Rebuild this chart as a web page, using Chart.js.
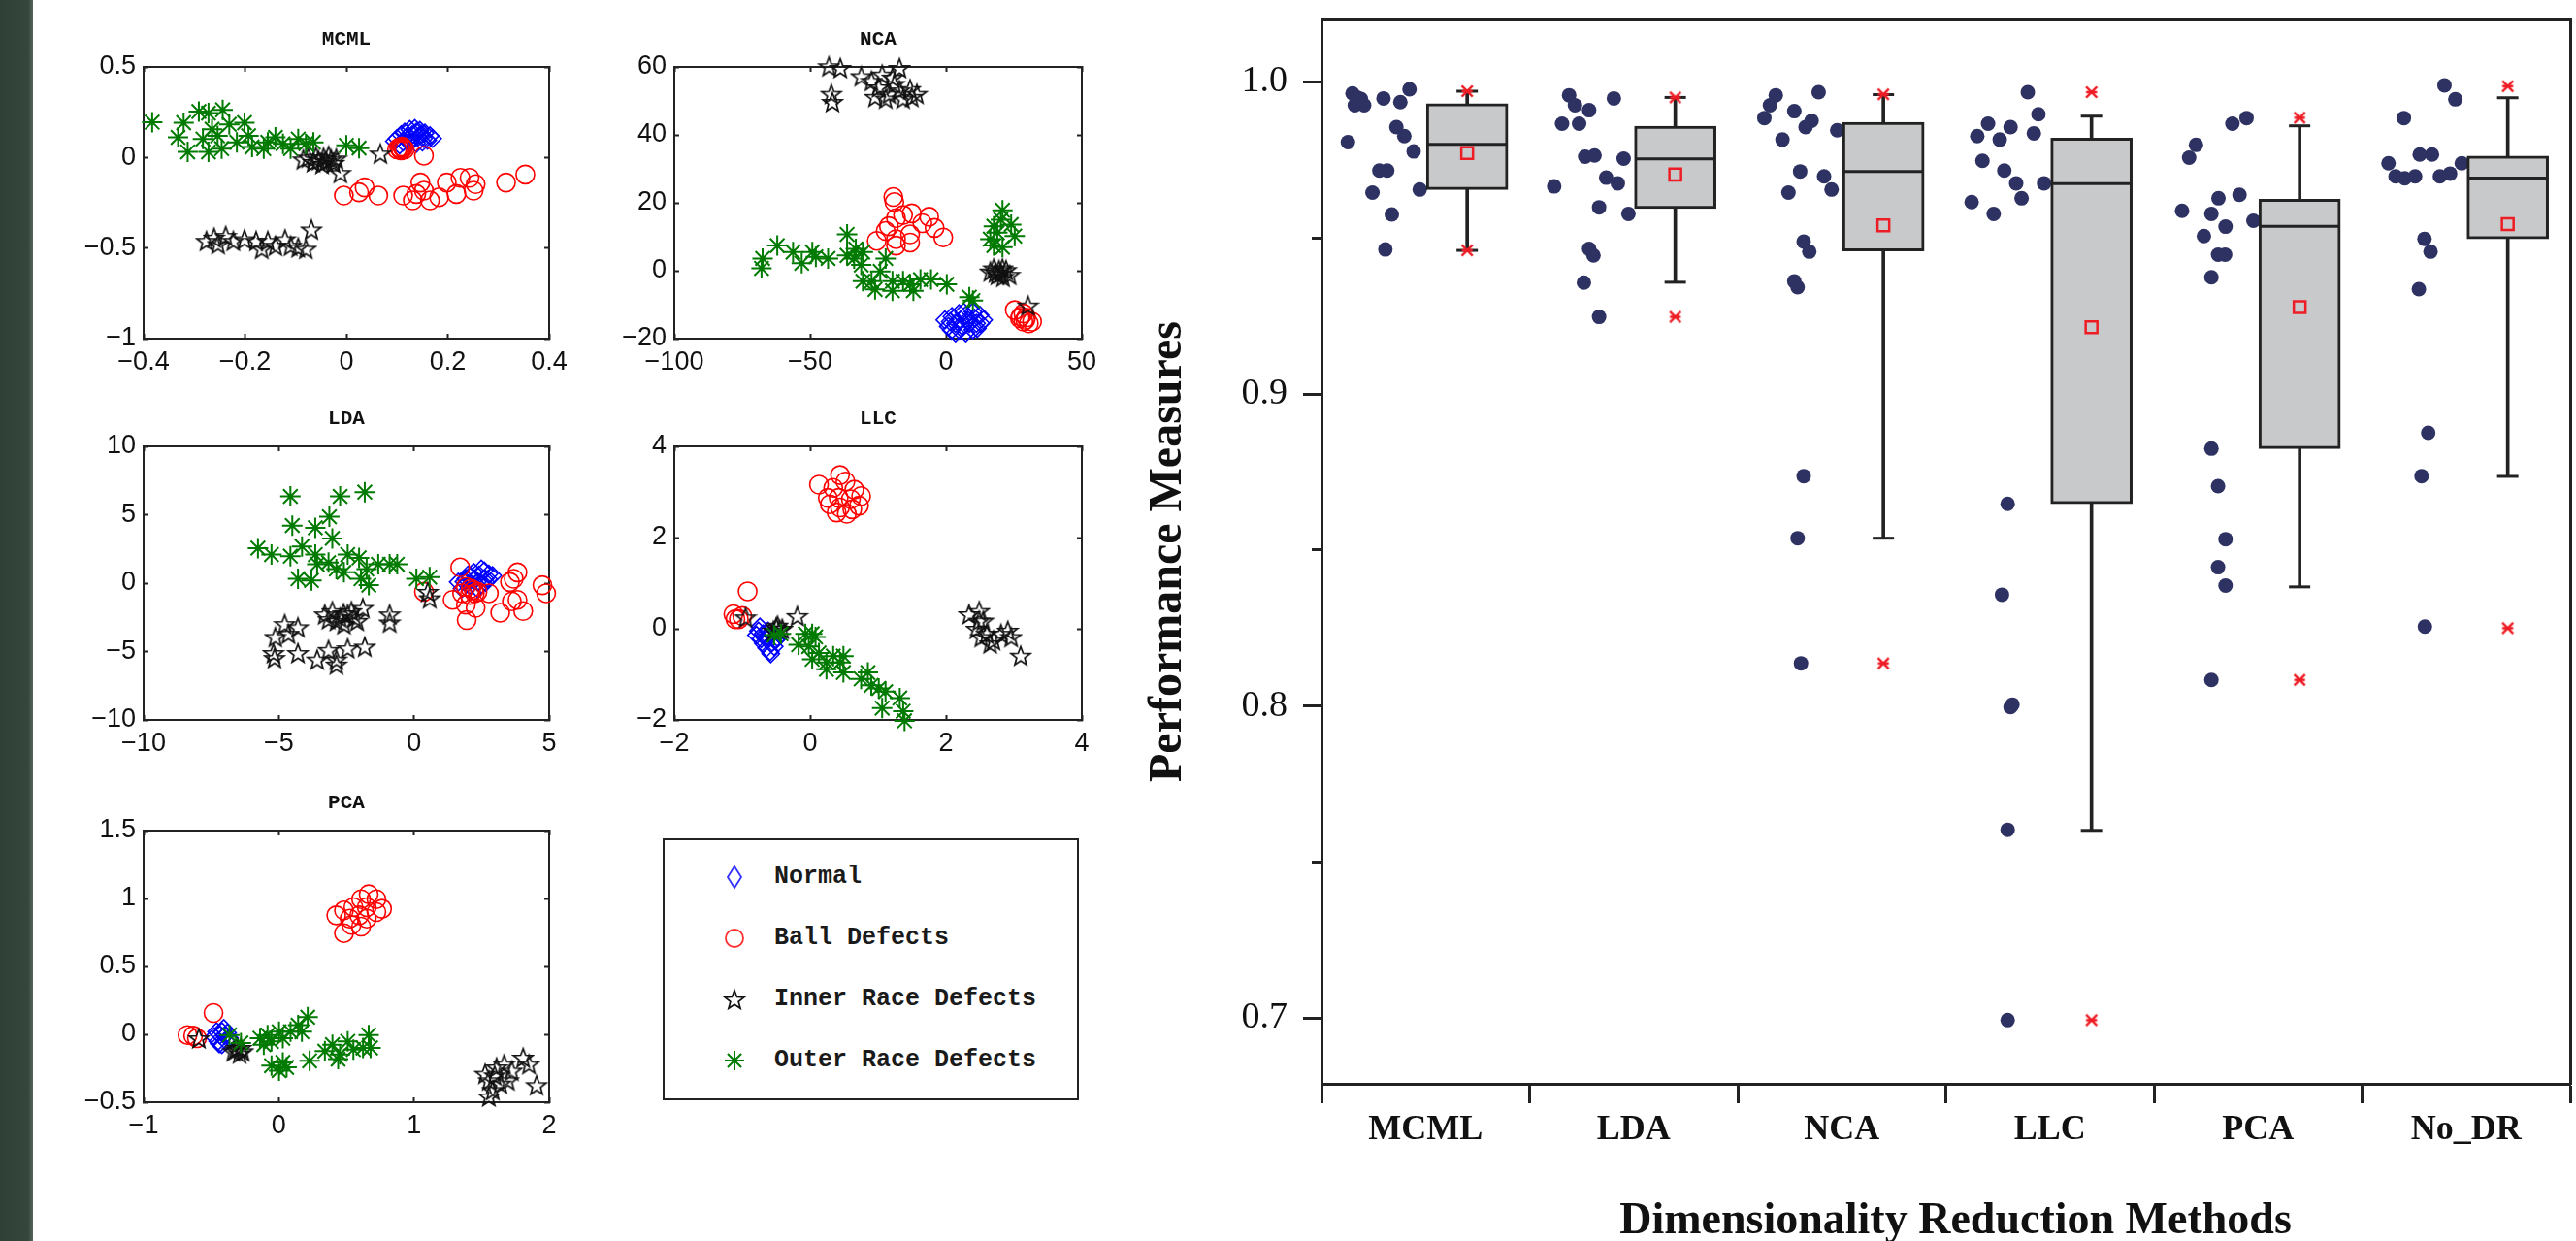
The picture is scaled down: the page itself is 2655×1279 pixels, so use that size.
<!DOCTYPE html>
<html>
<head>
<meta charset="utf-8">
<title>Dimensionality reduction comparison</title>
<script src="https://cdn.jsdelivr.net/npm/chart.js@4.4.1/dist/chart.umd.min.js"></script>
<style>
  html, body { margin: 0; padding: 0; background: #fff; }
  body { width: 2655px; height: 1279px; position: relative; overflow: hidden; }
  #strip { position: absolute; left: 0; top: 0; width: 34px; height: 1279px;
           background: linear-gradient(to right, #2f4037, #35473c 85%, #56675c); }
  canvas { position: absolute; }
  #legend { position: absolute; left: 683px; top: 864px; width: 429px; height: 270px;
            box-sizing: border-box; border: 2px solid #222;
            font: bold 25px 'Liberation Mono', monospace; color: #1a1a1a; }
  .row { position: absolute; left: 0; width: 100%; height: 30px; line-height: 30px; }
  .row canvas { position: absolute; left: 57px; top: 0; }
  .row span { position: absolute; left: 113px; white-space: pre; }
  #xtitle { position: absolute; left: 1362px; width: 1287px; top: 1233px; padding-left: 20px;
            box-sizing: border-box; text-align: center; white-space: nowrap;
            font: bold 46px/46px 'Liberation Serif', serif; color: #111; }
</style>
</head>
<body>
<div id="strip"></div>
<canvas id="mcml"></canvas>
<canvas id="nca"></canvas>
<canvas id="lda"></canvas>
<canvas id="llc"></canvas>
<canvas id="pca"></canvas>
<canvas id="box"></canvas>
<div id="legend"></div>
<div id="xtitle">Dimensionality Reduction Methods</div>
<script>
// ---- box plot: performance per dimensionality reduction method ----
const methods = ['MCML', 'LDA', 'NCA', 'LLC', 'PCA', 'No_DR'];
const q1       = [0.9655, 0.9594, 0.9458, 0.8648, 0.8825, 0.9497];
const medians  = [0.9800, 0.9753, 0.9713, 0.9674, 0.9537, 0.9692];
const q3       = [0.9930, 0.9858, 0.9870, 0.9820, 0.9624, 0.9762];
const whiskLo  = [0.9460, 0.9358, 0.8538, 0.7602, 0.8382, 0.8736];
const whiskHi  = [0.9970, 0.9950, 0.9959, 0.9890, 0.9859, 0.9949];
const means    = [0.9772, 0.9703, 0.9540, 0.9214, 0.9278, 0.9544];
const pct1     = [0.9460, 0.9247, 0.8137, 0.6994, 0.8084, 0.8250];
const pct99    = [0.9970, 0.9950, 0.9960, 0.9967, 0.9885, 0.9986];
const yMajor = [0.7, 0.8, 0.9, 1.0];
const yMinor = [0.75, 0.85, 0.95];

// individual runs: [jitter offset from the category, value]
const runsMCML = [[-0.351,0.9963],[-0.329,0.9950],[-0.340,0.9925],[-0.295,0.9925],[-0.31,0.9945],[-0.202,0.9947],[-0.121,0.9935],[-0.077,0.9976],[-0.140,0.9855],[-0.102,0.9826],[-0.373,0.9807],[-0.057,0.9777],[-0.222,0.9716],[-0.184,0.9716],[-0.255,0.9645],[-0.028,0.9655],[-0.162,0.9575],[-0.193,0.9463]];
const runsLDA = [[-0.310,0.9957],[-0.282,0.9925],[-0.214,0.9909],[-0.095,0.9947],[-0.344,0.9866],[-0.262,0.9866],[-0.233,0.9760],[-0.188,0.9764],[-0.048,0.9754],[-0.132,0.9693],[-0.076,0.9675],[-0.382,0.9665],[-0.166,0.9598],[-0.025,0.9577],[-0.214,0.9465],[-0.193,0.9444],[-0.239,0.9357],[-0.166,0.9247]];
const runsNCA = [[-0.317,0.9957],[-0.345,0.9925],[-0.372,0.9884],[-0.228,0.9906],[-0.111,0.9967],[-0.145,0.9875],[-0.174,0.9855],[-0.022,0.9845],[-0.285,0.9815],[-0.200,0.9713],[-0.085,0.9697],[-0.049,0.9655],[-0.256,0.9645],[-0.183,0.9488],[-0.156,0.9456],[-0.228,0.9361],[-0.212,0.9342],[-0.183,0.8737],[-0.212,0.8538],[-0.196,0.8137]];
const runsLLC = [[-0.106,0.9967],[-0.055,0.9896],[-0.297,0.9866],[-0.189,0.9855],[-0.349,0.9826],[-0.241,0.9815],[-0.077,0.9835],[-0.324,0.9747],[-0.219,0.9716],[-0.162,0.9675],[-0.028,0.9675],[-0.136,0.9627],[-0.376,0.9615],[-0.270,0.9577],[-0.203,0.8648],[-0.230,0.8357],[-0.189,0.7997],[-0.180,0.8005],[-0.203,0.7604],[-0.203,0.6994]];
const runsPCA = [[-0.055,0.9884],[-0.123,0.9866],[-0.298,0.9798],[-0.331,0.9757],[-0.190,0.9627],[-0.089,0.9638],[-0.365,0.9587],[-0.224,0.9577],[-0.022,0.9555],[-0.156,0.9536],[-0.260,0.9506],[-0.192,0.9446],[-0.158,0.9446],[-0.224,0.9374],[-0.224,0.8825],[-0.192,0.8705],[-0.156,0.8535],[-0.192,0.8445],[-0.156,0.8386],[-0.224,0.8084]];
const runsNoDR = [[-0.104,0.9989],[-0.052,0.9944],[-0.299,0.9884],[-0.223,0.9767],[-0.164,0.9767],[-0.373,0.9739],[-0.339,0.9697],[-0.295,0.9691],[-0.245,0.9697],[-0.126,0.9697],[-0.077,0.9706],[-0.021,0.9739],[-0.200,0.9497],[-0.171,0.9456],[-0.227,0.9336],[-0.182,0.8876],[-0.214,0.8737],[-0.198,0.8255]];
const runs = [runsMCML, runsLDA, runsNCA, runsLLC, runsPCA, runsNoDR];

// ---- 2-D projections, one array per class ----
const mcmlNormal = [[0.095,0.09],[0.100,0.105],[0.108,0.125],[0.115,0.14],[0.125,0.155],[0.135,0.16],[0.145,0.15],[0.155,0.135],[0.165,0.12],[0.170,0.105],[0.160,0.095],[0.150,0.085],[0.138,0.078],[0.125,0.08],[0.112,0.085],[0.118,0.11],[0.130,0.125],[0.142,0.115],[0.152,0.105],[0.128,0.1],[0.138,0.14],[0.105,0.07],[0.12,0.095],[0.148,0.128]];
const mcmlBall = [[0.100,0.045],[0.104,0.055],[0.108,0.040],[0.112,0.052],[0.106,0.048],[0.115,0.045],[0.110,0.060],[0.153,0.010],[-0.005,-0.210],[0.025,-0.192],[0.036,-0.165],[0.063,-0.210],[0.112,-0.210],[0.131,-0.237],[0.146,-0.138],[0.153,-0.183],[0.165,-0.237],[0.183,-0.219],[0.198,-0.138],[0.217,-0.201],[0.225,-0.112],[0.243,-0.112],[0.255,-0.147],[0.251,-0.183],[0.315,-0.138],[0.353,-0.094],[0.138,-0.201]];
const mcmlInner = [[-0.085,-0.01],[-0.075,0.0],[-0.065,-0.025],[-0.060,0.005],[-0.055,-0.015],[-0.048,-0.035],[-0.045,0.0],[-0.040,-0.02],[-0.035,0.01],[-0.030,-0.01],[-0.025,-0.03],[-0.02,-0.005],[-0.012,-0.085],[0.067,0.022],[-0.276,-0.460],[-0.261,-0.442],[-0.238,-0.433],[-0.223,-0.460],[-0.201,-0.451],[-0.178,-0.460],[-0.167,-0.504],[-0.155,-0.460],[-0.140,-0.487],[-0.121,-0.451],[-0.110,-0.487],[-0.095,-0.496],[-0.080,-0.504],[-0.069,-0.397],[-0.253,-0.478]];
const mcmlOuter = [[-0.383,0.195],[-0.321,0.192],[-0.332,0.111],[-0.313,0.031],[-0.291,0.254],[-0.272,0.245],[-0.244,0.263],[-0.265,0.156],[-0.272,0.031],[-0.246,0.049],[-0.231,0.183],[-0.201,0.192],[-0.193,0.120],[-0.216,0.084],[-0.155,0.084],[-0.163,0.049],[-0.125,0.076],[-0.095,0.102],[-0.080,0.076],[-0.065,0.084],[-0.110,0.049],[0.0,0.067],[0.025,0.052],[-0.254,0.120],[-0.186,0.058],[-0.140,0.111],[-0.283,0.102]];

const ncaNormal = [[-0.4,-14.5],[2.2,-13.5],[4.8,-12.6],[7.3,-13.1],[9.9,-12.1],[12.5,-13.1],[13.8,-14.5],[3.5,-15.5],[6.0,-16.4],[8.6,-15.5],[11.2,-15.5],[0.9,-16.4],[3.5,-18.3],[7.3,-18.3],[9.9,-17.4],[5.4,-14.5],[8.0,-14.5],[1.6,-15.0],[11.5,-17],[5,-17.5],[2,-17.5],[10.5,-14],[6.5,-12.2],[12.8,-15.5]];
const ncaBall = [[-19.4,21.7],[-19.0,20.2],[-15.8,16.4],[-12.6,16.9],[-6.2,15.9],[-18.4,15.5],[-8.7,14.0],[-4.2,12.6],[-22.2,11.7],[-18.4,9.3],[-13.2,10.7],[-1.0,9.8],[-25.5,8.8],[-18.4,7.4],[-13.2,8.3],[-21.0,13.1],[25.3,-11.6],[27.2,-14.0],[29.2,-14.5],[31.7,-15.0],[28.5,-12.6],[30.5,-15.5],[27.5,-13.5],[29.5,-13.8],[28.5,-15]];
const ncaInner = [[-43.1,60.2],[-38.9,59.7],[-42.2,52.1],[-41.8,49.7],[-31.2,57.3],[-27.4,55.9],[-23.5,57.8],[-19.7,56.9],[-17.1,59.7],[-24.8,54.0],[-20.9,52.1],[-17.1,53.1],[-13.2,53.5],[-10.7,52.1],[-22.2,50.7],[-15.8,50.7],[-12.6,51.2],[-26.1,51.2],[-19.0,55.0],[17.6,0.7],[20.2,-0.7],[22.1,0.2],[18.9,-1.2],[16.3,-0.2],[20.8,0.7],[23.4,-1.2],[19.5,0.2],[21,-1.8],[18.2,-0.5],[30.2,-10.2]];
const ncaOuter = [[-67.5,3.6],[-67.9,0.7],[-62.1,7.4],[-56.3,5.5],[-53.1,2.2],[-49.2,5.5],[-47.9,4.1],[-43.4,3.6],[-36.4,10.7],[-36.4,4.5],[-33.2,6.4],[-33.8,3.6],[-30.6,5.5],[-31.2,1.7],[-30.6,-3.1],[-27.4,-3.1],[-26.1,-5.5],[-22.2,3.6],[-24.2,-0.2],[-19.7,-3.1],[-19.7,-5.9],[-15.8,-3.1],[-13.2,-4.0],[-12.0,-5.9],[-9.4,-2.6],[-5.5,-2.6],[0.3,-4.0],[8.6,-7.8],[9.9,-8.8],[20.8,17.8],[17.6,13.1],[16.3,9.3],[18.9,11.2],[20.2,15.0],[24.0,13.6],[25.3,10.2],[20.8,6.9],[17.6,7.4]];

const ldaNormal = [[1.64,0.08],[1.92,0.32],[2.21,0.79],[2.49,1.03],[2.77,0.67],[2.91,0.55],[2.06,-0.15],[2.35,0.08],[2.63,0.32],[1.78,-0.39],[2.35,-0.39],[2.1,0.5],[2.4,0.6],[2.6,0.9],[2.75,0.3],[1.85,0.1],[2.2,0.2],[2.5,-0.1],[2.0,0.6],[2.65,0.05]];
const ldaBall = [[1.92,-0.27],[2.21,-0.51],[2.06,-0.86],[2.35,-0.63],[1.78,-0.74],[2.1,-0.4],[2.25,-0.75],[1.71,1.15],[0.37,-0.63],[1.43,-1.22],[1.92,-1.57],[2.28,-1.81],[1.95,-2.70],[2.77,-0.74],[3.19,-2.16],[3.62,-1.33],[3.83,-1.22],[4.04,-2.04],[3.55,0.08],[3.83,0.79],[3.69,0.32],[4.75,-0.15],[4.89,-0.74]];
const ldaInner = [[-3.30,-2.28],[-3.02,-2.04],[-2.73,-2.51],[-2.45,-2.28],[-2.31,-2.04],[-2.87,-2.75],[-2.59,-2.99],[-2.10,-2.75],[-1.89,-1.81],[-3.16,-2.63],[-2.6,-2.2],[-2.2,-2.5],[-4.78,-2.99],[-4.29,-3.22],[-5.13,-3.93],[-4.64,-3.70],[-5.20,-5.11],[-5.16,-5.47],[-4.29,-5.11],[-3.58,-5.58],[-3.16,-4.88],[-2.87,-5.58],[-2.87,-5.94],[-2.45,-4.76],[-1.82,-4.64],[-0.90,-2.28],[-0.90,-2.87],[0.58,-1.10],[0.51,-0.63]];
const ldaOuter = [[-4.57,6.34],[-2.73,6.34],[-1.82,6.65],[-4.50,4.21],[-3.65,4.05],[-3.13,4.85],[-3.02,3.27],[-5.77,2.56],[-5.27,2.09],[-4.57,1.97],[-4.14,2.68],[-3.65,2.09],[-3.58,1.38],[-4.29,0.32],[-3.79,0.20],[-3.16,1.50],[-2.87,1.03],[-2.45,2.09],[-2.03,1.85],[-1.75,1.03],[-1.67,-0.15],[-1.32,1.38],[-0.90,1.38],[-0.62,1.38],[0.09,0.32],[0.58,0.44],[-2.59,0.79],[-1.96,0.32]];

const llcNormal = [[-0.74,0.04],[-0.79,-0.14],[-0.69,-0.32],[-0.59,-0.50],[-0.61,-0.18],[-0.51,-0.25],[-0.53,-0.39],[-0.69,-0.11],[-0.76,-0.05],[-0.64,-0.42],[-0.56,-0.3],[-0.66,-0.2],[-0.72,-0.22],[-0.62,-0.05],[-0.58,-0.55],[-0.48,-0.2]];
const llcBall = [[0.13,3.16],[0.44,3.37],[0.52,3.23],[0.34,3.09],[0.65,3.05],[0.75,2.91],[0.42,2.87],[0.60,2.84],[0.29,2.73],[0.44,2.66],[0.62,2.62],[0.39,2.55],[0.54,2.52],[0.72,2.70],[0.26,2.87],[-0.92,0.82],[-1.13,0.32],[-1.05,0.21],[-1.0,0.28],[-1.10,0.21]];
const llcInner = [[-0.95,0.25],[-0.48,0.07],[-0.41,0.0],[-0.54,-0.04],[-0.45,-0.02],[-0.5,0.03],[-0.19,0.28],[2.34,0.32],[2.49,0.39],[2.55,0.18],[2.45,0.0],[2.60,-0.11],[2.70,-0.25],[2.81,-0.11],[2.91,-0.04],[2.96,-0.18],[2.52,-0.18],[2.65,-0.32],[3.10,-0.59],[2.49,0.18]];
const llcOuter = [[-0.53,-0.14],[-0.43,-0.11],[-0.07,-0.11],[0.03,-0.11],[-0.17,-0.35],[-0.02,-0.39],[0.08,-0.18],[0.13,-0.53],[0.03,-0.67],[0.24,-0.74],[0.34,-0.60],[0.44,-0.74],[0.49,-0.60],[0.49,-0.96],[0.75,-1.10],[0.85,-0.96],[0.90,-1.24],[1.01,-1.31],[1.11,-1.38],[1.06,-1.74],[1.32,-1.52],[1.37,-1.81],[1.39,-2.02],[0.24,-0.89]];

const pcaNormal = [[-0.436,-0.005],[-0.407,0.043],[-0.478,-0.017],[-0.421,-0.076],[-0.365,-0.029],[-0.450,-0.052],[-0.42,0.02],[-0.39,-0.05],[-0.46,0.02],[-0.40,-0.01],[-0.44,-0.07],[-0.38,0.01]];
const pcaBall = [[0.425,0.876],[0.482,0.912],[0.552,0.936],[0.609,0.995],[0.665,1.031],[0.722,0.995],[0.764,0.924],[0.651,0.936],[0.595,0.876],[0.524,0.852],[0.482,0.745],[0.609,0.793],[0.538,0.805],[0.722,0.900],[0.651,0.852],[-0.675,-0.005],[-0.633,-0.010],[-0.605,-0.029],[-0.483,0.157]];
const pcaInner = [[-0.591,-0.029],[-0.308,-0.100],[-0.266,-0.124],[-0.337,-0.124],[-0.29,-0.14],[-0.32,-0.11],[-0.28,-0.1],[1.554,-0.338],[1.611,-0.243],[1.667,-0.219],[1.583,-0.410],[1.554,-0.457],[1.695,-0.338],[1.808,-0.171],[1.851,-0.219],[1.907,-0.374],[1.640,-0.362],[1.526,-0.290],[1.724,-0.267],[1.597,-0.302]];
const pcaOuter = [[-0.365,-0.005],[-0.280,-0.064],[-0.139,-0.029],[-0.083,-0.005],[-0.054,-0.052],[0.002,0.019],[0.030,-0.029],[0.087,0.019],[0.143,0.067],[0.214,0.126],[0.171,0.019],[-0.054,-0.231],[0.002,-0.267],[0.058,-0.243],[0.030,-0.207],[0.228,-0.195],[0.341,-0.124],[0.397,-0.076],[0.453,-0.148],[0.510,-0.052],[0.552,-0.112],[0.623,-0.100],[0.665,-0.005],[0.679,-0.100],[0.439,-0.183],[-0.111,-0.076]];

const mcmlXTicks = [-0.4, -0.2, 0, 0.2, 0.4], mcmlYTicks = [-1, -0.5, 0, 0.5];
const ncaXTicks = [-100, -50, 0, 50], ncaYTicks = [-20, 0, 20, 40, 60];
const ldaXTicks = [-10, -5, 0, 5], ldaYTicks = [-10, -5, 0, 5, 10];
const llcXTicks = [-2, 0, 2, 4], llcYTicks = [-2, 0, 2, 4];
const pcaXTicks = [-1, 0, 1, 2], pcaYTicks = [-0.5, 0, 0.5, 1, 1.5];
const classNames = ['Normal', 'Ball Defects', 'Inner Race Defects', 'Outer Race Defects'];

// ---- markers ----
function starImage(color, size, lw) {
  const c = document.createElement('canvas');
  c.width = c.height = size;
  const g = c.getContext('2d');
  const ro = size / 2 - lw, ri = ro * 0.42;
  g.beginPath();
  for (let k = 0; k < 10; k++) {
    const r = k % 2 ? ri : ro, a = -Math.PI / 2 + k * Math.PI / 5;
    g.lineTo(size / 2 + r * Math.cos(a), size / 2 + 1 + r * Math.sin(a));
  }
  g.closePath();
  g.strokeStyle = color; g.lineWidth = lw; g.stroke();
  return c;
}
function xBarImage(color, size, lw) {
  const c = document.createElement('canvas');
  c.width = c.height = size;
  const g = c.getContext('2d');
  const m = size / 2, r = size / 2 - lw;
  g.strokeStyle = color; g.lineWidth = lw;
  g.beginPath();
  g.moveTo(m - r, m - r); g.lineTo(m + r, m + r);
  g.moveTo(m + r, m - r); g.lineTo(m - r, m + r);
  g.moveTo(m - r, m); g.lineTo(m + r, m);
  g.stroke();
  return c;
}
const starBlack = starImage('#111', 24, 1.7);
const RED = '#ee1c24';
const classStyles = [
  { pointStyle: 'rectRot', pointRadius: 9, borderColor: '#0000ff', borderWidth: 1.6, backgroundColor: 'rgba(0,0,0,0)', order: 4 },
  { pointStyle: 'circle', pointRadius: 9.5, borderColor: '#ff0000', borderWidth: 1.6, backgroundColor: 'rgba(0,0,0,0)', order: 3 },
  { pointStyle: starBlack, pointRadius: 10, order: 2 },
  { pointStyle: 'star', pointRadius: 10.5, borderColor: '#007a00', borderWidth: 2, order: 1 }
];

Chart.defaults.font.family = 'Liberation Sans';
Chart.defaults.color = '#111';

// fix an axis box to an exact size and stop its labels from pushing the plot area
function pin(s, prop, size) {
  s[prop] = size;
  s.paddingLeft = s.paddingRight = s.paddingTop = s.paddingBottom = 0;
}

function makeSubplot(id, area, title, xTicks, yTicks, sets) {
  const [left, top, w, h] = area;
  const cv = document.getElementById(id);
  cv.width = w + 150; cv.height = h + 119;
  cv.style.left = (left - 110) + 'px';
  cv.style.top = (top - 69) + 'px';
  const xr = [xTicks[0], xTicks[xTicks.length - 1]];
  const yr = [yTicks[0], yTicks[yTicks.length - 1]];
  const fmt = v => String(v).replace('-', '\u2212');
  const line = { color: '#222', width: 2 };
  const tickFont = { family: 'Liberation Sans', size: 27 };
  const inward = { drawOnChartArea: false, tickLength: -5, tickWidth: 2, tickColor: '#222' };
  new Chart(cv, {
    type: 'scatter',
    data: {
      datasets: sets.map((pts, k) => Object.assign({
        label: classNames[k],
        data: pts.map(p => ({ x: p[0], y: p[1] })),
        clip: false
      }, classStyles[k]))
    },
    options: {
      responsive: false, animation: false, events: [],
      layout: { autoPadding: false, padding: { left: 0, right: 40, top: 0, bottom: 0 } },
      plugins: {
        legend: { display: false }, tooltip: { enabled: false },
        title: { display: true, text: title, fullSize: false, color: '#111',
                 font: { family: 'Liberation Mono', size: 21, weight: 'bold', lineHeight: 1.2 },
                 padding: { top: 28, bottom: 15.8 } }
      },
      scales: {
        x: { type: 'linear', position: 'bottom', min: xr[0], max: xr[1],
             afterBuildTicks: s => { s.ticks = xTicks.map(v => ({ value: v })); },
             afterFit: s => pin(s, 'height', 50),
             grid: inward, border: line,
             ticks: { callback: fmt, font: tickFont, color: '#111', padding: 13, maxRotation: 0, autoSkip: false } },
        y: { type: 'linear', position: 'left', min: yr[0], max: yr[1],
             afterBuildTicks: s => { s.ticks = yTicks.map(v => ({ value: v })); },
             afterFit: s => pin(s, 'width', 110),
             grid: inward, border: line,
             ticks: { callback: fmt, font: tickFont, color: '#111', padding: 13, autoSkip: false } },
        xTop: { type: 'linear', position: 'top', min: xr[0], max: xr[1],
                afterBuildTicks: s => { s.ticks = xTicks.map(v => ({ value: v })); },
                afterFit: s => pin(s, 'height', 0),
                grid: inward, border: line, ticks: { display: false } },
        yRight: { type: 'linear', position: 'right', min: yr[0], max: yr[1],
                  afterBuildTicks: s => { s.ticks = yTicks.map(v => ({ value: v })); },
                  afterFit: s => pin(s, 'width', 0),
                  grid: inward, border: line, ticks: { display: false } }
      }
    }
  });
}

// plot-area boxes on the page: [left, top, width, height]
makeSubplot('mcml', [148, 69, 418, 280], 'MCML', mcmlXTicks, mcmlYTicks, [mcmlNormal, mcmlBall, mcmlInner, mcmlOuter]);
makeSubplot('nca', [695, 69, 420, 280], 'NCA', ncaXTicks, ncaYTicks, [ncaNormal, ncaBall, ncaInner, ncaOuter]);
makeSubplot('lda', [148, 460, 418, 282], 'LDA', ldaXTicks, ldaYTicks, [ldaNormal, ldaBall, ldaInner, ldaOuter]);
makeSubplot('llc', [695, 460, 420, 282], 'LLC', llcXTicks, llcYTicks, [llcNormal, llcBall, llcInner, llcOuter]);
makeSubplot('pca', [148, 856, 418, 280], 'PCA', pcaXTicks, pcaYTicks, [pcaNormal, pcaBall, pcaInner, pcaOuter]);

// ---- legend ----
function drawMarker(g, k, x, y) {
  g.lineWidth = 1.8;
  g.beginPath();
  if (k === 0) {
    g.strokeStyle = '#3030ff';
    g.moveTo(x, y - 11); g.lineTo(x + 7, y); g.lineTo(x, y + 11); g.lineTo(x - 7, y); g.closePath();
  } else if (k === 1) {
    g.strokeStyle = '#ff3030';
    g.arc(x, y, 9, 0, Math.PI * 2);
  } else if (k === 2) {
    g.drawImage(starBlack, x - 12, y - 12);
    return;
  } else {
    g.strokeStyle = '#007a00'; g.lineWidth = 2;
    for (let a = 0; a < 4; a++) {
      const t = a * Math.PI / 4;
      g.moveTo(x - 10 * Math.cos(t), y - 10 * Math.sin(t));
      g.lineTo(x + 10 * Math.cos(t), y + 10 * Math.sin(t));
    }
  }
  g.stroke();
}
const legendRows = [23, 86, 149, 212];
const legend = document.getElementById('legend');
classNames.forEach((name, k) => {
  const row = document.createElement('div');
  row.className = 'row';
  row.style.top = legendRows[k] + 'px';
  const mc = document.createElement('canvas');
  mc.width = 30; mc.height = 30;
  drawMarker(mc.getContext('2d'), k, 15, 15);
  const label = document.createElement('span');
  label.textContent = name;
  row.appendChild(mc); row.appendChild(label);
  legend.appendChild(row);
});

// ---- box plot chart ----
const BOX_SHIFT = 0.2;
const at = arr => arr.map((v, i) => ({ x: i + BOX_SHIFT, y: v }));
const boxCanvas = document.getElementById('box');
boxCanvas.width = 1505; boxCanvas.height = 1279;
boxCanvas.style.left = '1150px'; boxCanvas.style.top = '0px';
const Y_MIN = 0.679, Y_MAX = 1.02;
const serif = 'Liberation Serif';
const frame = { color: '#222', width: 3 };

new Chart(boxCanvas, {
  type: 'scatter',
  data: {
    datasets: [
      { type: 'scatter', label: '1% / 99%', data: at(pct1).concat(at(pct99)),
        pointStyle: xBarImage(RED, 16, 2.4), pointRadius: 8, order: 0 },
      { type: 'scatter', label: 'Mean', data: at(means), pointStyle: 'rect', pointRadius: 8.5,
        borderColor: RED, borderWidth: 2.5, backgroundColor: 'rgba(0,0,0,0)', order: 1 },
      { type: 'scatter', label: 'Median', data: at(medians), pointStyle: 'line', pointRadius: 41,
        borderColor: '#222', borderWidth: 3, order: 2 },
      { type: 'scatter', label: 'Whisker caps', data: at(whiskLo).concat(at(whiskHi)), pointStyle: 'line',
        pointRadius: 11, borderColor: '#222', borderWidth: 3, order: 3 },
      { type: 'bar', label: 'IQR', data: q1.map((v, i) => ({ x: i + BOX_SHIFT, y: [v, q3[i]] })),
        barThickness: 84, grouped: false, backgroundColor: '#c8c9cb', borderColor: '#222',
        borderWidth: 3, borderSkipped: false, order: 4 },
      { type: 'bar', label: 'Whiskers', data: whiskLo.map((v, i) => ({ x: i + BOX_SHIFT, y: [v, whiskHi[i]] })),
        barThickness: 3, grouped: false, backgroundColor: '#222', borderWidth: 0, order: 5 },
      { type: 'scatter', label: 'Runs',
        data: runs.flatMap((list, i) => list.map(([dx, v]) => ({ x: i + dx, y: v }))),
        pointRadius: 7.5, backgroundColor: '#2e3262', borderWidth: 0, order: 6 }
    ]
  },
  options: {
    responsive: false, animation: false, events: [],
    layout: { autoPadding: false, padding: { left: 0, right: 6, top: 20, bottom: 0 } },
    plugins: { legend: { display: false }, tooltip: { enabled: false } },
    scales: {
      x: { type: 'linear', position: 'bottom', min: -0.5, max: 5.5, offset: false,
           afterBuildTicks: s => { s.ticks = methods.map((m, i) => ({ value: i })); },
           afterFit: s => pin(s, 'height', 162),
           grid: { drawOnChartArea: false, tickLength: 20, tickWidth: 3, tickColor: '#222' },
           border: frame,
           ticks: { callback: v => methods[v], font: { family: serif, size: 36, weight: 'bold' },
                    color: '#111', padding: 6, maxRotation: 0, autoSkip: false },
           title: { display: false } },
      y: { type: 'linear', position: 'left', min: Y_MIN, max: Y_MAX, weight: 1,
           afterBuildTicks: s => { s.ticks = yMajor.map(v => ({ value: v })); },
           afterFit: s => pin(s, 'width', 212),
           grid: { drawOnChartArea: false, tickLength: 19, tickWidth: 3, tickColor: '#222' },
           border: frame,
           ticks: { callback: v => v.toFixed(1), font: { family: serif, size: 38 }, color: '#111', padding: 16 },
           title: { display: true, text: 'Performance Measures', color: '#111',
                    font: { family: serif, size: 48, weight: 'bold', lineHeight: 1 },
                    padding: { top: 31, bottom: 0 } } },
      yMinor: { type: 'linear', position: 'left', min: Y_MIN, max: Y_MAX, weight: 0,
                afterBuildTicks: s => { s.ticks = yMinor.map(v => ({ value: v })); },
                afterFit: s => pin(s, 'width', 0),
                grid: { drawOnChartArea: false, tickLength: 10, tickWidth: 3, tickColor: '#222' },
                border: { display: false }, ticks: { display: false } },
      xTop: { type: 'linear', position: 'top', min: -0.5, max: 5.5,
              afterFit: s => pin(s, 'height', 0),
              grid: { display: false }, border: frame, ticks: { display: false } },
      yRight: { type: 'linear', position: 'right', min: Y_MIN, max: Y_MAX,
                afterFit: s => pin(s, 'width', 0),
                grid: { display: false }, border: frame, ticks: { display: false } }
    }
  }
});
</script>
</body>
</html>
